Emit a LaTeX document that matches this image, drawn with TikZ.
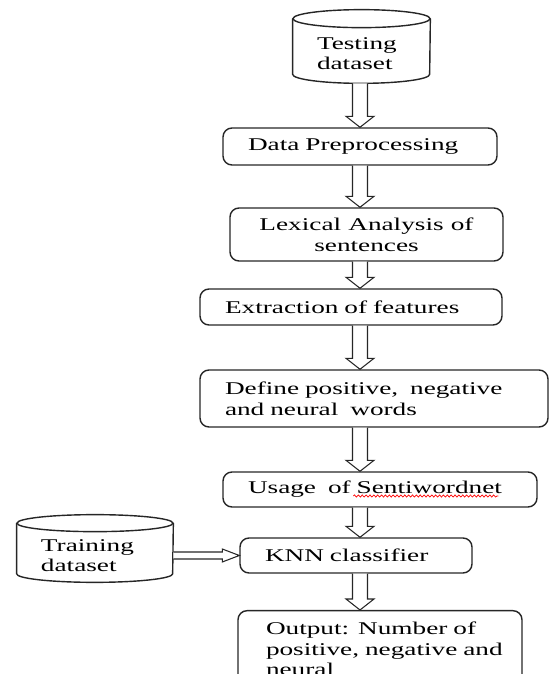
\documentclass[tikz,border=0pt]{standalone}
\usepackage{fontspec}
\setmainfont{Liberation Serif}[FakeStretch=1.52]
\usetikzlibrary{positioning,calc,decorations.pathmorphing}

% hollow block arrow going down, shaft on the column (col)
\newcommand{\hollowdown}[2]{%
  \draw[blockline] ($(#1 -| col)+(-0.15,0)$) -- ($(#2 -| col)+(-0.15,0.22)$)
    -- ($(#2 -| col)+(-0.28,0.22)$) -- (#2 -| col) -- ($(#2 -| col)+(0.28,0.22)$)
    -- ($(#2 -| col)+(0.15,0.22)$) -- ($(#1 -| col)+(0.15,0)$);}

\begin{document}
\begin{tikzpicture}[
    txt/.style={font=\fontsize{10.2}{11.8}\selectfont},
    procbox/.style={txt, draw=black!85, thick, rounded corners=0.18cm, inner xsep=0.5cm, inner ysep=0pt, align=left},
    dbbody/.style={txt, inner xsep=0.48cm, inner ysep=0pt, align=left, text height=14.8pt},
    blockline/.style={draw=black!85, semithick, fill=white}
  ]
  \useasboundingbox (0,0) rectangle (11.02,13.48);
  \coordinate (col) at (7.2,0);

  % Testing dataset (cylinder)
  \node[dbbody, minimum width=2.74cm, minimum height=1.10cm, text width=1.78cm] (test) at (7.23,12.55) {Testing\\dataset};
  \draw[draw=black!85, thick] (test.north west) -- (test.south west)
    arc[start angle=180, end angle=360, x radius=1.37cm, y radius=0.18cm] -- (test.north east);
  \draw[draw=black!85, thick] (test.north) ellipse [x radius=1.37cm, y radius=0.18cm];
  \coordinate (testbot) at ($(test.south)+(0,-0.18)$);

  % Processing steps
  \node[procbox, minimum height=0.74cm, text width=4.48cm] (prep) at (7.20,10.55) {Data Preprocessing};
  \node[procbox, minimum height=1.06cm, inner xsep=0.2cm, text width=5.06cm, align=center] (lex) at (7.33,8.79)
    {Lexical\hspace{0.4em}Analysis\hspace{0.4em}of\\sentences};
  \node[procbox, minimum height=0.72cm, text width=5.04cm] (feat) at (7.02,7.34) {Extraction of features};
  \node[procbox, minimum height=1.14cm, text width=5.96cm] (words) at (7.48,5.51) {Define positive,\ \ negative\\and neural\ \ words};
  \node[procbox, minimum height=0.70cm, text width=5.28cm] (swn) at (7.60,3.69) {Usage\ \ of Sentiwordnet};
  \draw[red, line width=0.4pt, decorate, decoration={snake, segment length=2.2pt, amplitude=0.6pt}]
    ($(swn.west)+(2.62,-0.13)$) -- ($(swn.west)+(5.52,-0.13)$);
  \node[procbox, minimum height=0.70cm, text width=3.64cm] (knn) at (7.12,2.37) {KNN classifier};
  \node[procbox, anchor=north, inner ysep=0.22cm, inner xsep=0.56cm, text width=4.56cm] (out) at (7.60,1.28)
    {\mbox{Output: Number of}\\\mbox{positive, negative and}\\neural};

  % Training dataset (cylinder)
  \node[dbbody, minimum width=3.12cm, minimum height=1.00cm, text width=2.16cm] (train) at (1.90,2.51) {Training\\dataset};
  \draw[draw=black!85, thick] (train.north west) -- (train.south west)
    arc[start angle=180, end angle=360, x radius=1.56cm, y radius=0.17cm] -- (train.north east);
  \draw[draw=black!85, thick] (train.north) ellipse [x radius=1.56cm, y radius=0.17cm];

  % Hollow arrows
  \hollowdown{testbot}{prep.north}
  \hollowdown{prep.south}{lex.north}
  \hollowdown{lex.south}{feat.north}
  \hollowdown{feat.south}{words.north}
  \hollowdown{words.south}{swn.north}
  \hollowdown{swn.south}{knn.north}
  \hollowdown{knn.south}{out.north}
  \draw[blockline] ($(knn.west -| train.east)+(0,0.07)$) -- ($(knn.west)+(-0.34,0.07)$)
    -- ($(knn.west)+(-0.34,0.13)$) -- (knn.west) -- ($(knn.west)+(-0.34,-0.13)$)
    -- ($(knn.west)+(-0.34,-0.07)$) -- ($(knn.west -| train.east)+(0,-0.07)$);
\end{tikzpicture}
\end{document}
